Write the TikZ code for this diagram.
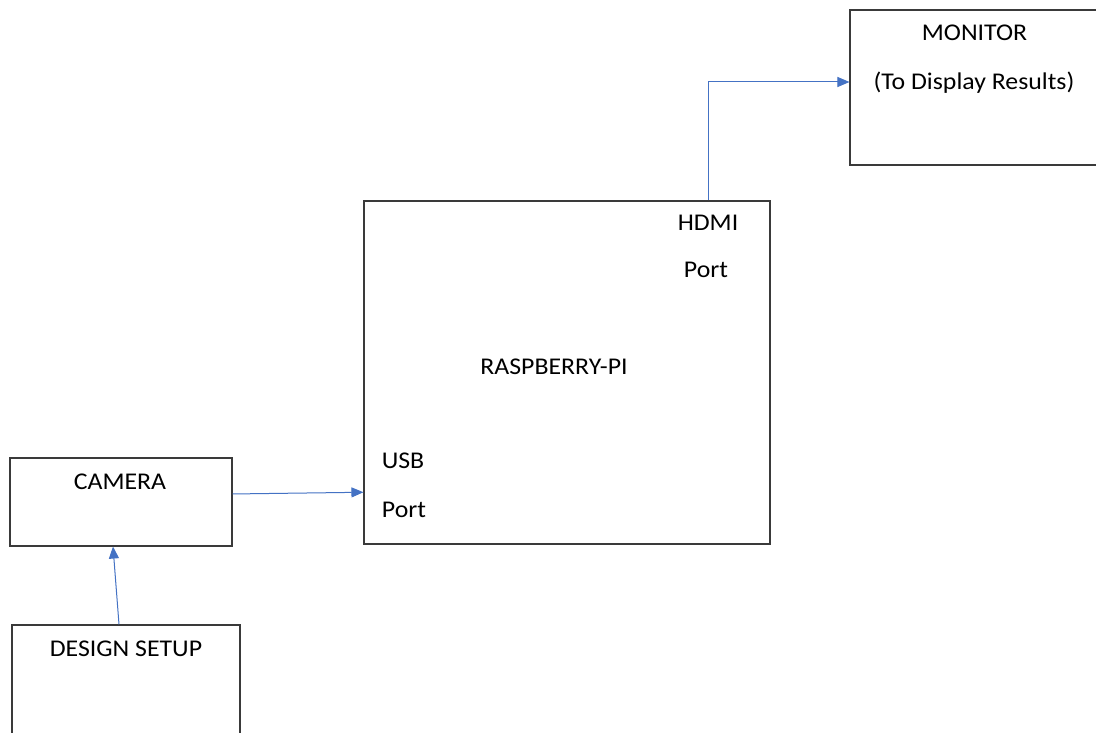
\documentclass[tikz,border=0pt]{standalone}
\usepackage{fontspec}
\setmainfont{Carlito}
\usetikzlibrary{arrows.meta,calc}
\definecolor{boxline}{HTML}{3A3A3A}
\definecolor{arrowblue}{HTML}{4472C4}
\newcommand{\wtxt}[1]{\scalebox{1.075}[1]{#1}}
\tikzset{
  box/.style={draw=boxline, line width=1.1pt, rectangle, inner sep=0pt},
  lbl/.style={anchor=base, inner sep=0pt, font=\fontsize{24}{28}\selectfont, text=black},
  conn/.style={draw=arrowblue, line width=1pt, -{Triangle[length=12pt,width=10pt]}}
}
\begin{document}
\begin{tikzpicture}[x=1pt,y=-1pt]
\useasboundingbox (0,0) rectangle (1096,733);
\clip (0,0) rectangle (1096,733);
\fill[white] (0,0) rectangle (1096,733);
% boxes
\node[box, minimum width=222pt, minimum height=88pt] (camera) at (121,502) {};
\node[box, minimum width=228pt, minimum height=130pt] (design) at (126,690) {};
\node[box, minimum width=406pt, minimum height=343pt] (rpi) at (567,372.5) {};
\node[box, minimum width=260pt, minimum height=155pt] (monitor) at (980,87.5) {};
% labels
\node[lbl] (tcam) at (120,489) {\wtxt{CAMERA}};
\node[lbl] (tdes) at (126,656) {\wtxt{DESIGN SETUP}};
\node[lbl] (trpi) at (554,374) {\wtxt{RASPBERRY-PI}};
\node[lbl] (thdmi) at (708,230.5) {\wtxt{HDMI}};
\node[lbl] (thport) at (706,277) {\wtxt{Port}};
\node[lbl] (tusb) at (403,468) {\wtxt{USB}};
\node[lbl] (tuport) at (404,517) {\wtxt{Port}};
\node[lbl] (tmon) at (974.5,40.5) {\wtxt{MONITOR}};
\node[lbl] (tdisp) at (974,90) {\wtxt{(To Display Results)}};
% connectors
\draw[conn] ($(camera.north east)!0.41!(camera.south east)$) -- ($(rpi.north west)!0.848!(rpi.south west)$);
\draw[conn] ([xshift=-7pt]design.north) -- ([xshift=-8pt]camera.south);
\draw[conn] ([xshift=141pt]rpi.north) |- ([yshift=5.5pt]monitor.west);
\end{tikzpicture}
\end{document}
